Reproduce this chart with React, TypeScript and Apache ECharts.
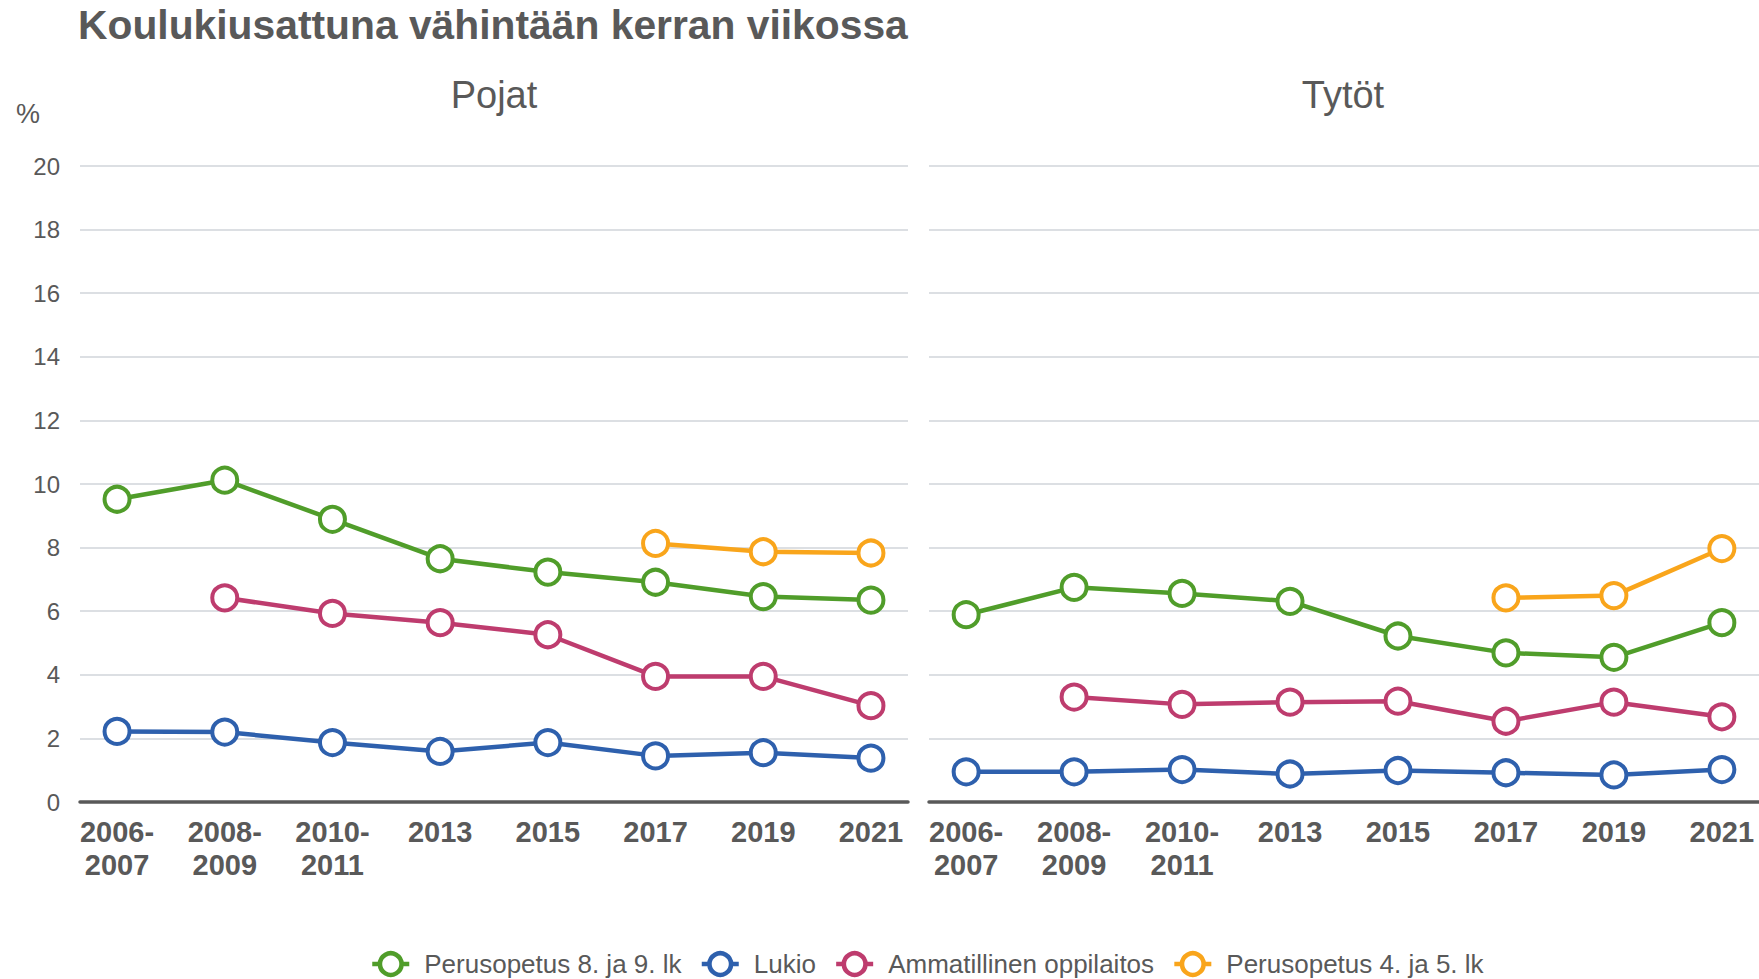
import React, { useEffect, useRef } from "react";
import * as echarts from "echarts";

const categories = ["2006-\n2007", "2008-\n2009", "2010-\n2011", "2013", "2015", "2017", "2019", "2021"];
const seriesNames = ["Perusopetus 8. ja 9. lk", "Lukio", "Ammatillinen oppilaitos", "Perusopetus 4. ja 5. lk"];
const colors = ["#509d2a", "#2e60ad", "#be3c6e", "#f9a51b"];

// Pojat (boys)
const pojatPerus89 = [9.52, 10.12, 8.89, 7.65, 7.23, 6.91, 6.46, 6.35];
const pojatLukio = [2.22, 2.2, 1.87, 1.59, 1.87, 1.45, 1.55, 1.38];
const pojatAmmatillinen = [null, 6.42, 5.93, 5.64, 5.26, 3.95, 3.95, 3.03];
const pojatPerus45 = [null, null, null, null, null, 8.13, 7.87, 7.83];

// Tytöt (girls)
const tytotPerus89 = [5.89, 6.75, 6.56, 6.31, 5.22, 4.69, 4.55, 5.64];
const tytotLukio = [0.95, 0.95, 1.02, 0.88, 0.99, 0.92, 0.85, 1.02];
const tytotAmmatillinen = [null, 3.3, 3.07, 3.14, 3.17, 2.54, 3.14, 2.68];
const tytotPerus45 = [null, null, null, null, null, 6.42, 6.49, 7.97];

const yTicks = [0, 2, 4, 6, 8, 10, 12, 14, 16, 18, 20];

const TEXT = "#595959";
const FONT = "'Liberation Sans', Arial, sans-serif";

function pairs(arr: (number | null)[]) {
  const out: number[][] = [];
  arr.forEach((v, i) => {
    if (v !== null) out.push([i, v]);
  });
  return out;
}

export default function App() {
  const ref = useRef<HTMLDivElement>(null);
  useEffect(() => {
    if (!ref.current) return;
    const chart = echarts.init(ref.current, undefined, { renderer: "svg" });
    const groups = [
      [pojatPerus89, pojatLukio, pojatAmmatillinen, pojatPerus45],
      [tytotPerus89, tytotLukio, tytotAmmatillinen, tytotPerus45],
    ];
    const series: any[] = [];
    groups.forEach((g, gi) => {
      g.forEach((arr, si) => {
        series.push({
          type: "line",
          name: seriesNames[si],
          xAxisIndex: gi,
          yAxisIndex: gi,
          data: pairs(arr),
          color: colors[si],
          symbol: "circle",
          symbolSize: 25,
          showAllSymbol: true,
          lineStyle: { color: colors[si], width: 4.5 },
          itemStyle: { color: "#ffffff", borderColor: colors[si], borderWidth: 4 },
          z: 10 - si,
        });
      });
    });
    const xAxisBase = (gi: number) => ({
      type: "value",
      gridIndex: gi,
      min: -0.344,
      max: 7.344,
      axisLine: { show: true, onZero: false, lineStyle: { color: "#595959", width: 3.5 } },
      axisTick: { show: false },
      splitLine: { show: false },
      axisLabel: {
        customValues: [0, 1, 2, 3, 4, 5, 6, 7],
        formatter: (v: number) => categories[Math.round(v)] ?? "",
        color: TEXT,
        fontFamily: FONT,
        fontWeight: "bold",
        fontSize: 29,
        lineHeight: 33,
        margin: 13,
        verticalAlign: "top",
      },
    });
    const yAxisBase = (gi: number) => ({
      type: "value",
      gridIndex: gi,
      min: 0,
      max: 20,
      interval: 2,
      axisLine: { show: false },
      axisTick: { show: false },
      splitLine: { show: true, lineStyle: { color: "#dcdfe3", width: 2 } },
      axisLabel: {
        show: gi === 0,
        color: TEXT,
        fontFamily: FONT,
        fontSize: 24,
        margin: 20,
        formatter: (v: number) => (yTicks.includes(v) ? String(v) : ""),
      },
    });
    chart.setOption({
      animation: false,
      backgroundColor: "#ffffff",
      title: [
        {
          text: "Koulukiusattuna vähintään kerran viikossa",
          left: 78,
          top: 4,
          padding: 0,
          textStyle: { color: TEXT, fontFamily: FONT, fontWeight: "bold", fontSize: 40.8 },
        },
        {
          text: "Pojat",
          left: 494,
          top: 76,
          padding: 0,
          textAlign: "center",
          textStyle: { color: TEXT, fontFamily: FONT, fontWeight: "normal", fontSize: 38 },
        },
        {
          text: "Tytöt",
          left: 1343,
          top: 76,
          padding: 0,
          textAlign: "center",
          textStyle: { color: TEXT, fontFamily: FONT, fontWeight: "normal", fontSize: 38 },
        },
        {
          text: "%",
          left: 16,
          top: 100,
          padding: 0,
          textStyle: { color: TEXT, fontFamily: FONT, fontWeight: "normal", fontSize: 27 },
        },
      ],
      legend: {
        data: seriesNames,
        top: 951,
        left: 370,
        padding: 0,
        itemWidth: 37,
        itemHeight: 27,
        itemGap: 18,
        itemStyle: { borderWidth: 4.5 },
        lineStyle: { width: 4.5 },
        textStyle: { color: TEXT, fontFamily: FONT, fontSize: 26, padding: [0, 0, 0, 10] },
      },
      grid: [
        { left: 80, width: 828, top: 166, height: 636 },
        { left: 929, width: 830, top: 166, height: 636 },
      ],
      xAxis: [xAxisBase(0), xAxisBase(1)],
      yAxis: [yAxisBase(0), yAxisBase(1)],
      series,
    });
    return () => chart.dispose();
  }, []);
  return (
    <div
      ref={ref}
      style={{ position: "fixed", left: 0, top: 0, width: 1759, height: 979 }}
    />
  );
}
